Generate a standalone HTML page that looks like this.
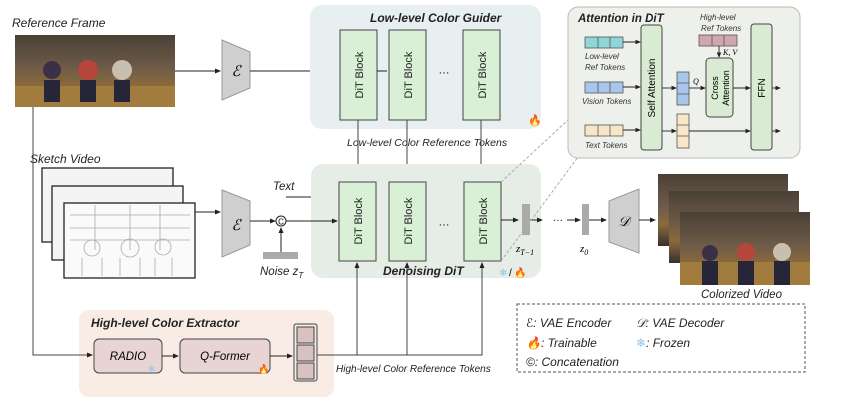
<!DOCTYPE html>
<html><head><meta charset="utf-8"><style>
html,body{margin:0;padding:0;background:#fff;}
svg{display:block;font-family:"Liberation Sans","DejaVu Sans",sans-serif;}
.i{font-style:italic;}
</style></head><body>
<svg width="850" height="405" viewBox="0 0 850 405" xmlns="http://www.w3.org/2000/svg">
<defs>
<marker id="a" markerWidth="6" markerHeight="6" refX="5" refY="3" orient="auto"><path d="M0,0.5 L6,3 L0,5.5z" fill="#222"/></marker>
<linearGradient id="col" x1="0" y1="0" x2="0" y2="1"><stop offset="0" stop-color="#4a4036"/><stop offset="0.45" stop-color="#6e5a48"/><stop offset="0.7" stop-color="#8a6a3c"/><stop offset="1" stop-color="#3a2f2c"/></linearGradient>
</defs>

<!-- Reference frame -->
<text x="12" y="27" class="i" font-size="12" fill="#222">Reference Frame</text>
<rect x="15" y="35" width="160" height="72" fill="url(#col)"/>
<rect x="15" y="86" width="160" height="21" fill="#a27c3e"/>
<circle cx="52" cy="70" r="9" fill="#3a3048"/><rect x="44" y="80" width="16" height="22" fill="#262638"/>
<circle cx="88" cy="70" r="10" fill="#b8453a"/><rect x="80" y="80" width="16" height="22" fill="#262638"/>
<circle cx="122" cy="70" r="10" fill="#c9bfae"/><rect x="114" y="80" width="16" height="22" fill="#262638"/>

<!-- Encoder top -->
<path d="M222,40 L250,52 L250,88 L222,100z" fill="#cfcfcf" stroke="#999"/>
<text x="236" y="76" font-size="15" text-anchor="middle" class="i" font-family="Liberation Serif,serif">ℰ</text>
<line x1="175" y1="71" x2="220" y2="71" stroke="#222" marker-end="url(#a)"/>
<line x1="250" y1="71" x2="338" y2="71" stroke="#222" marker-end="url(#a)"/>

<!-- Low-level color guider -->
<rect x="310" y="5" width="231" height="124" rx="12" fill="#e7eff0"/>
<text x="370" y="22" font-size="12" font-weight="bold" class="i" fill="#222">Low-level Color Guider</text>
<g fill="#d9f0d6" stroke="#444">
<rect x="340" y="30" width="37" height="90"/><rect x="389" y="30" width="37" height="90"/><rect x="463" y="30" width="37" height="90"/>
</g>
<g font-size="11" fill="#222">
<text transform="translate(363,75) rotate(-90)" text-anchor="middle">DiT Block</text>
<text transform="translate(412,75) rotate(-90)" text-anchor="middle">DiT Block</text>
<text transform="translate(486,75) rotate(-90)" text-anchor="middle">DiT Block</text>
</g>
<text x="444" y="76" font-size="11" text-anchor="middle">···</text>
<line x1="377" y1="71" x2="387" y2="71" stroke="#222"/>
<text x="528" y="124" font-size="11" fill="#e05a1a">🔥</text>
<text x="347" y="146" font-size="10.5" class="i" fill="#222">Low-level Color   Reference Tokens</text>
<g stroke="#444" marker-end="url(#a)">
<line x1="358" y1="120" x2="358" y2="182"/><line x1="407" y1="120" x2="407" y2="182"/><line x1="481" y1="120" x2="481" y2="182"/>
</g>

<!-- Sketch video -->
<text x="30" y="163" class="i" font-size="12" fill="#222">Sketch Video</text>
<g stroke="#222" stroke-width="1.3">
<rect x="42" y="168" width="131" height="74" fill="#f4f4f4"/>
<rect x="52" y="186" width="131" height="74" fill="#f4f4f4"/>
<rect x="64" y="203" width="131" height="75" fill="#fafafa"/>
</g>
<g stroke="#aaa" fill="none" stroke-width="0.8">
<path d="M70,215 H190 M70,228 H190 M70,240 H190 M95,205 V250 M130,205 V250 M160,205 V250"/>
<circle cx="92" cy="248" r="8"/><circle cx="130" cy="248" r="9"/><circle cx="163" cy="247" r="8"/>
<path d="M82,258 L82,276 M102,258 L102,276 M120,258 L120,276 M140,258 L140,276 M155,258 L155,276 M172,258 L172,276"/>
</g>
<line x1="195" y1="212" x2="220" y2="212" stroke="#222" marker-end="url(#a)"/>
<path d="M222,190 L250,201 L250,245 L222,257z" fill="#cfcfcf" stroke="#999"/>
<text x="236" y="230" font-size="15" text-anchor="middle" class="i" font-family="Liberation Serif,serif">ℰ</text>
<line x1="250" y1="221" x2="275" y2="221" stroke="#222" marker-end="url(#a)"/>
<circle cx="281" cy="221" r="5" fill="#fff" stroke="#222"/><text x="281" y="224.5" font-size="8" text-anchor="middle">C</text>
<rect x="263" y="252" width="35" height="7" fill="#aaa"/>
<line x1="281" y1="252" x2="281" y2="228" stroke="#222" marker-end="url(#a)"/>
<text x="260" y="275" class="i" font-size="11.5" fill="#222">Noise z<tspan font-size="8" dy="3">T</tspan></text>
<text x="273" y="190" class="i" font-size="11.5" fill="#222">Text</text>
<line x1="286" y1="197" x2="336" y2="197" stroke="#222" marker-end="url(#a)"/>

<!-- Denoising DiT -->
<rect x="311" y="164" width="230" height="114" rx="12" fill="#e6ece6"/>
<g fill="#d9f0d6" stroke="#444">
<rect x="339" y="182" width="37" height="79"/><rect x="389" y="182" width="37" height="79"/><rect x="464" y="182" width="37" height="79"/>
</g>
<g font-size="11" fill="#222">
<text transform="translate(362,221) rotate(-90)" text-anchor="middle">DiT Block</text>
<text transform="translate(412,221) rotate(-90)" text-anchor="middle">DiT Block</text>
<text transform="translate(487,221) rotate(-90)" text-anchor="middle">DiT Block</text>
</g>
<text x="444" y="228" font-size="11" text-anchor="middle">···</text>
<line x1="286" y1="221" x2="337" y2="221" stroke="#222" marker-end="url(#a)"/>
<text x="383" y="275" font-size="12" font-weight="bold" class="i" fill="#222">Denoising DiT</text>
<text x="499" y="276" font-size="10" fill="#8ec5ee">❄</text><text x="509" y="276" font-size="10">/</text><text x="514" y="276" font-size="10" fill="#e05a1a">🔥</text>
<line x1="501" y1="220" x2="518" y2="220" stroke="#222" marker-end="url(#a)"/>
<rect x="522" y="204" width="8" height="31" fill="#aaa"/>
<text x="516" y="252" class="i" font-size="11" font-family="Liberation Serif,serif">z<tspan font-size="8" dy="3">T−1</tspan></text>
<line x1="530" y1="220" x2="542" y2="220" stroke="#222" marker-end="url(#a)"/>
<text x="558" y="223" font-size="10" text-anchor="middle">···</text>
<line x1="567" y1="220" x2="580" y2="220" stroke="#222" marker-end="url(#a)"/>
<rect x="582" y="204" width="7" height="31" fill="#aaa"/>
<text x="580" y="252" class="i" font-size="11" font-family="Liberation Serif,serif">z<tspan font-size="8" dy="3">0</tspan></text>
<line x1="589" y1="220" x2="606" y2="220" stroke="#222" marker-end="url(#a)"/>
<path d="M609,201 L639,189 L639,253 L609,242z" fill="#cfcfcf" stroke="#999"/>
<text x="624" y="226" font-size="14" text-anchor="middle" class="i" font-family="Liberation Serif,serif">𝒟</text>
<line x1="639" y1="220" x2="655" y2="220" stroke="#222" marker-end="url(#a)"/>

<!-- colorized video -->
<rect x="658" y="174" width="130" height="72" fill="url(#col)"/>
<rect x="669" y="191" width="130" height="72" fill="url(#col)"/>
<rect x="680" y="212" width="130" height="73" fill="url(#col)"/>
<rect x="680" y="262" width="130" height="23" fill="#a27c3e"/>
<circle cx="710" cy="253" r="8" fill="#3a3048"/><rect x="702" y="261" width="16" height="24" fill="#262638"/>
<circle cx="746" cy="252" r="9" fill="#b8453a"/><rect x="738" y="261" width="16" height="24" fill="#262638"/>
<circle cx="782" cy="252" r="9" fill="#c9bfae"/><rect x="774" y="261" width="16" height="24" fill="#262638"/>
<text x="701" y="298" class="i" font-size="11.5" fill="#222">Colorized Video</text>

<!-- Legend -->
<rect x="517" y="304" width="288" height="68" fill="none" stroke="#555" stroke-dasharray="3,2"/>
<g font-size="12" class="i" fill="#222">
<text x="526" y="327">ℰ: VAE Encoder</text><text x="636" y="327">𝒟: VAE Decoder</text>
<text x="526" y="347"><tspan fill="#e05a1a">🔥</tspan>: Trainable</text><text x="636" y="347"><tspan fill="#8ec5ee">❄</tspan>: Frozen</text>
<text x="526" y="366">©: Concatenation</text>
</g>

<!-- High-level extractor -->
<rect x="79" y="310" width="255" height="87" rx="10" fill="#f9ece4"/>
<text x="91" y="327" font-size="12" font-weight="bold" class="i" fill="#222">High-level Color Extractor</text>
<rect x="94" y="339" width="68" height="34" rx="5" fill="#e8d4d2" stroke="#444"/>
<text x="128" y="360" class="i" font-size="11.5" text-anchor="middle">RADIO</text>
<text x="148" y="372" font-size="9" fill="#8ec5ee">❄</text>
<rect x="180" y="339" width="90" height="34" rx="5" fill="#e8d4d2" stroke="#444"/>
<text x="225" y="360" class="i" font-size="11.5" text-anchor="middle">Q-Former</text>
<text x="258" y="372" font-size="9" fill="#e05a1a">🔥</text>
<rect x="294" y="324" width="23" height="57" rx="2" fill="#f3ebe6" stroke="#444"/>
<g fill="#d8c2c0" stroke="#444"><rect x="297" y="327" width="17" height="16"/><rect x="297" y="345" width="17" height="16"/><rect x="297" y="363" width="17" height="16"/></g>
<polyline points="33,107 33,355 92,355" fill="none" stroke="#444" marker-end="url(#a)"/>
<line x1="162" y1="356" x2="178" y2="356" stroke="#222" marker-end="url(#a)"/>
<line x1="270" y1="356" x2="292" y2="356" stroke="#222" marker-end="url(#a)"/>
<polyline points="317,355 482,355 482,263" fill="none" stroke="#444" marker-end="url(#a)"/>
<line x1="357" y1="355" x2="357" y2="263" stroke="#444" marker-end="url(#a)"/>
<line x1="407" y1="355" x2="407" y2="263" stroke="#444" marker-end="url(#a)"/>
<text x="336" y="372" class="i" font-size="10" fill="#222">High-level Color Reference Tokens</text>

<!-- dashed zoom lines -->
<line x1="501" y1="182" x2="568" y2="120" stroke="#aaa" stroke-dasharray="3,2"/>
<line x1="501" y1="261" x2="578" y2="157" stroke="#aaa" stroke-dasharray="3,2"/>

<!-- Attention in DiT -->
<rect x="568" y="7" width="232" height="151" rx="10" fill="#eef0ec" stroke="#bbb"/>
<text x="578" y="22" font-size="11.5" font-weight="bold" class="i" fill="#222">Attention in DiT</text>
<g stroke="#555" stroke-width="0.8">
<rect x="585" y="37" width="38" height="11" fill="#8fd6d8"/>
<rect x="585" y="82" width="38" height="11" fill="#a8c6ea"/>
<rect x="585" y="125" width="38" height="11" fill="#f7e7c8"/>
<rect x="699" y="35" width="38" height="11" fill="#cfa7ae"/>
<rect x="677" y="72" width="12" height="33" fill="#a8c6ea"/>
<rect x="677" y="114" width="12" height="34" fill="#f7e7c8"/>
<path d="M598,37 V48 M610,37 V48 M598,82 V93 M610,82 V93 M598,125 V136 M610,125 V136 M712,35 V46 M724,35 V46 M677,83 H689 M677,94 H689 M677,125 H689 M677,136 H689"/>
</g>
<g font-size="8" class="i" fill="#333">
<text x="585" y="59">Low-level</text><text x="585" y="70">Ref Tokens</text>
<text x="582" y="104">Vision Tokens</text>
<text x="585" y="148">Text Tokens</text>
<text x="700" y="20">High-level</text><text x="701" y="31">Ref Tokens</text>
</g>
<rect x="641" y="25" width="21" height="125" rx="3" fill="#d9ecd3" stroke="#444"/>
<text transform="translate(655,88) rotate(-90)" font-size="10" text-anchor="middle">Self Attention</text>
<rect x="706" y="58" width="27" height="59" rx="4" fill="#d9ecd3" stroke="#444"/>
<text transform="translate(718,88) rotate(-90)" font-size="9" text-anchor="middle">Cross</text>
<text transform="translate(729,88) rotate(-90)" font-size="9" text-anchor="middle">Attention</text>
<rect x="751" y="24" width="21" height="126" rx="3" fill="#d9ecd3" stroke="#444"/>
<text transform="translate(765,88) rotate(-90)" font-size="10" text-anchor="middle">FFN</text>
<g stroke="#222" stroke-width="0.9" marker-end="url(#a)">
<line x1="623" y1="42" x2="640" y2="42"/><line x1="623" y1="87" x2="640" y2="87"/><line x1="623" y1="130" x2="640" y2="130"/>
<line x1="662" y1="88" x2="676" y2="88"/><line x1="662" y1="131" x2="676" y2="131"/>
<line x1="689" y1="88" x2="705" y2="88"/><line x1="689" y1="131" x2="750" y2="131"/>
<line x1="733" y1="88" x2="750" y2="88"/>
<line x1="719" y1="46" x2="719" y2="57"/>
<line x1="772" y1="88" x2="780" y2="88"/><line x1="772" y1="131" x2="780" y2="131"/>
</g>
<text x="693" y="84" font-size="8" class="i" font-family="Liberation Serif,serif">Q</text>
<text x="723" y="55" font-size="8" class="i" font-family="Liberation Serif,serif">K, V</text>
</svg>
</body></html>
